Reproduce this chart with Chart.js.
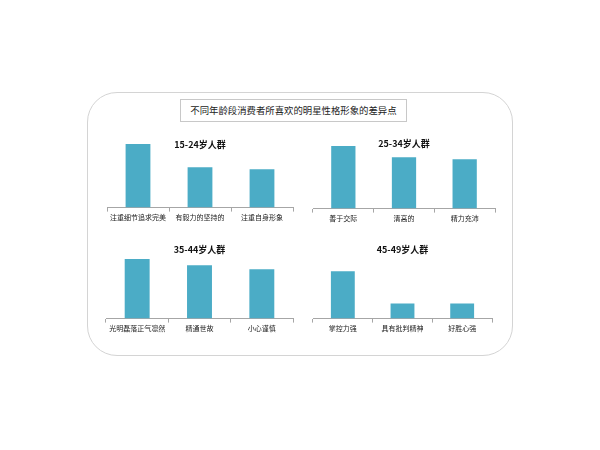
<!DOCTYPE html>
<html>
<head>
<meta charset="utf-8">
<script src="https://cdn.jsdelivr.net/npm/chart.js@4"></script>
<style>
  body { margin: 0; background: #fff; }
  #wrap { position: relative; width: 600px; height: 450px; }
  #frame {
    position: absolute; left: 87px; top: 92px; width: 426px; height: 264px;
    border: 1px solid #d4d4d4; border-radius: 30px; box-sizing: border-box;
  }
  #mainTitle {
    position: absolute; left: 180px; top: 99px; width: 227px; height: 23px;
    border: 1px solid #c8c8c8; box-sizing: border-box;
    font: 9.4px "Noto Sans CJK SC", sans-serif; color: #222;
    text-align: center; line-height: 21px;
  }
  canvas { position: absolute; }
</style>
</head>
<body>
<div id="wrap">
  <div id="frame"></div>
  <div id="mainTitle">不同年龄段消费者所喜欢的明星性格形象的差异点</div>
  <canvas id="c1" style="left:97px;top:125px;width:206px;height:99px"></canvas>
  <canvas id="c2" style="left:303px;top:126px;width:202px;height:99px"></canvas>
  <canvas id="c3" style="left:96px;top:236px;width:207px;height:99px"></canvas>
  <canvas id="c4" style="left:303px;top:236px;width:199px;height:99px"></canvas>
</div>
<script>
  // 各年龄段的性格标签与相对得分（无纵轴，按柱高估读）
  const groups = ['15-24岁人群', '25-34岁人群', '35-44岁人群', '45-49岁人群'];
  const labels1 = ['注重细节追求完美', '有毅力的坚持的', '注重自身形象'];
  const values1 = [63, 40, 38];
  const labels2 = ['善于交际', '清高的', '精力充沛'];
  const values2 = [62, 51, 49];
  const labels3 = ['光明磊落正气凛然', '精通世故', '小心谨慎'];
  const values3 = [59, 53, 49];
  const labels4 = ['掌控力强', '具有批判精神', '好胜心强'];
  const values4 = [47, 15, 15];

  Chart.defaults.font.family = '"Noto Sans CJK SC", sans-serif';

  // 小标题画在绘图区内部（与柱子同一高度带）
  const groupTitle = {
    id: 'groupTitle',
    afterDraw(chart, args, opts) {
      const ctx = chart.ctx;
      const area = chart.chartArea;
      ctx.save();
      ctx.font = 'bold 9px "Noto Sans CJK SC", sans-serif';
      ctx.fillStyle = '#111';
      ctx.textAlign = 'center';
      ctx.textBaseline = 'middle';
      ctx.fillText(opts.text, (area.left + area.right) / 2, opts.y);
      ctx.restore();
    }
  };

  function makeChart(id, title, titleY, labels, values) {
    new Chart(document.getElementById(id), {
      type: 'bar',
      data: {
        labels: labels,
        datasets: [{
          data: values,
          backgroundColor: '#4bacc6',
          categoryPercentage: 1,
          barPercentage: 0.4
        }]
      },
      options: {
        responsive: false,
        animation: false,
        layout: { padding: { left: 10, right: 10, top: 12, bottom: 0 } },
        plugins: {
          legend: { display: false },
          tooltip: { enabled: false },
          groupTitle: { text: title, y: titleY }
        },
        scales: {
          x: {
            grid: { drawOnChartArea: false, drawTicks: true, tickLength: 4, color: '#a6a6a6' },
            border: { display: true, color: '#a6a6a6' },
            ticks: { color: '#222', font: { size: 7 }, padding: 2, maxRotation: 0, autoSkip: false }
          },
          y: { display: false, min: 0, max: 70 }
        }
      },
      plugins: [groupTitle]
    });
  }

  makeChart('c1', groups[0], 20, labels1, values1);
  makeChart('c2', groups[1], 18, labels2, values2);
  makeChart('c3', groups[2], 14, labels3, values3);
  makeChart('c4', groups[3], 14, labels4, values4);
</script>
</body>
</html>
